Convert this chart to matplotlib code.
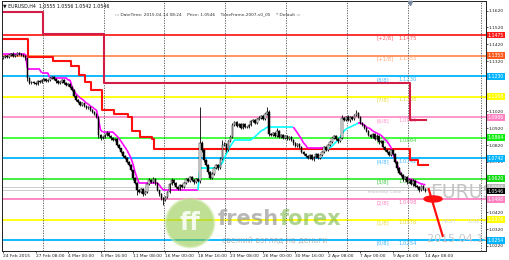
import numpy as np
import matplotlib.pyplot as plt
from matplotlib.collections import LineCollection
from matplotlib.patches import Ellipse

# ---- data (EURUSD H4) ----
date_labels = ['24 Feb 2015', '27 Feb 08:00', '4 Mar 00:00', '6 Mar 16:00', '11 Mar 08:00',
               '16 Mar 00:00', '18 Mar 16:00', '23 Mar 08:00', '26 Mar 00:00', '30 Mar 16:00',
               '2 Apr 08:00', '7 Apr 00:00', '9 Apr 16:00', '14 Apr 08:00']
date_label_bars = [0, 16, 32, 48, 64, 80, 96, 112, 128, 144, 160, 176, 192, 208]
week_bars = [20, 50, 80, 110, 140, 170, 200, 236]

first_open = 1.1338
closes = [
    1.1344, 1.1350, 1.1344, 1.1356, 1.1362, 1.1350, 1.1356, 1.1368, 1.1362, 1.1356, 1.1350, 1.1338,
    1.1219, 1.1189,
    1.1195, 1.1189, 1.1183, 1.1201, 1.1195, 1.1207,
    1.1213, 1.1201, 1.1207, 1.1219, 1.1225, 1.1213, 1.1201, 1.1189, 1.1195, 1.1207, 1.1189, 1.1177, 1.1183, 1.1165,
    1.1148, 1.1112, 1.1088, 1.1076, 1.1058, 1.1070, 1.1052, 1.1040, 1.1046, 1.1029, 1.1017, 1.1005, 1.0987, 1.0880, 1.0862,
    1.0868, 1.0880, 1.0892, 1.0874, 1.0862, 1.0850, 1.0856,
    1.0820, 1.0802, 1.0779, 1.0755, 1.0743, 1.0719, 1.0701, 1.0671, 1.0624,
    1.0594, 1.0552, 1.0540, 1.0558, 1.0528, 1.0540, 1.0588, 1.0612, 1.0600, 1.0618, 1.0594, 1.0552, 1.0528, 1.0505, 1.0493, 1.0511, 1.0540,
    1.0588, 1.0612, 1.0594, 1.0570, 1.0558, 1.0582, 1.0570,
    1.0594, 1.0618, 1.0606, 1.0630, 1.0612, 1.0600, 1.0618,
    1.0606, 1.0832, 1.0790, 1.0731, 1.0701, 1.0660, 1.0624, 1.0648,
    1.0683, 1.0701, 1.0683, 1.0737, 1.0820, 1.0826,
    1.0790, 1.0844, 1.0868,
    1.0939, 1.0957, 1.0933, 1.0945, 1.0922, 1.0945, 1.0927, 1.0927, 1.0939,
    1.0963, 1.0969, 1.0951, 1.0975, 1.0981, 1.0993, 1.0975, 1.1005,
    1.1017, 1.0886, 1.0880,
    1.0892, 1.0874, 1.0904, 1.0868, 1.0880, 1.0862,
    1.0874, 1.0856, 1.0868, 1.0850, 1.0832, 1.0814, 1.0826,
    1.0808, 1.0779, 1.0767, 1.0755, 1.0743, 1.0761, 1.0737, 1.0749, 1.0767, 1.0743, 1.0761,
    1.0779, 1.0808, 1.0790, 1.0820, 1.0838, 1.0862, 1.0874, 1.0856, 1.0844, 1.0862,
    1.0981, 1.0969, 1.0987, 1.0969, 1.0987, 1.0975, 1.0999, 1.1011, 1.0987,
    1.0951, 1.0939, 1.0922, 1.0904, 1.0880, 1.0868,
    1.0886, 1.0856, 1.0874, 1.0838, 1.0844, 1.0808, 1.0790, 1.0779, 1.0761,
    1.0790, 1.0767, 1.0719, 1.0683, 1.0654,
    1.0642, 1.0618, 1.0630, 1.0600, 1.0612, 1.0588, 1.0606, 1.0576,
    1.0570, 1.0552, 1.0576, 1.0558, 1.0546,
]
# wick lengths above / below the body, in pips
wick_up = [
    6, 5, 8, 4, 6, 9, 5, 7, 4, 6, 5, 4,
    3, 5,
    6, 4, 7, 5, 4, 6,
    5, 7, 4, 6, 8, 5, 4, 6, 5, 7, 4, 5, 6, 4,
    4, 5, 3, 6, 4, 7, 3, 5, 4, 6, 3, 5, 4, 6, 8,
    7, 5, 9, 4, 6, 5, 7,
    4, 5, 3, 6, 4, 3, 5, 4, 3,
    6, 4, 5, 7, 4, 8, 6, 9, 5, 12, 4, 5, 3, 6, 4, 7, 8,
    6, 9, 5, 4, 7, 5, 6,
    5, 8, 6, 7, 4, 5, 6,
    5, 214, 12, 8, 6, 5, 7, 9,
    6, 8, 5, 9, 30, 10,
    7, 8, 9,
    11, 8, 6, 9, 5, 7, 6, 8, 5,
    7, 5, 8, 6, 9, 5, 7, 8,
    29, 10, 7,
    6, 8, 18, 5, 7, 6,
    7, 5, 8, 6, 4, 5, 7,
    5, 6, 4, 7, 5, 8, 4, 6, 7, 5, 6,
    6, 5, 7, 8, 6, 7, 5, 6, 4, 7,
    20, 8, 6, 9, 7, 8, 6, 18, 7,
    6, 5, 7, 4, 6, 5,
    8, 6, 9, 5, 7, 6, 5, 4, 6,
    9, 6, 5, 4, 6,
    7, 5, 8, 6, 7, 5, 9, 6,
    7, 5, 8, 6, 4,
]
wick_dn = [
    5, 7, 4, 6, 5, 4, 8, 5, 6, 4, 7, 9,
    18, 6,
    5, 8, 6, 4, 7, 5,
    6, 4, 8, 5, 6, 7, 9, 5, 4, 6, 8, 5, 7, 6,
    6, 4, 7, 5, 8, 4, 6, 5, 7, 4, 6, 5, 4, 20, 12,
    6, 8, 5, 7, 9, 6, 5,
    7, 5, 8, 6, 9, 5, 7, 8, 10,
    8, 29, 7, 6, 10, 5, 7, 6, 8, 5, 9, 7, 10, 12, 30, 8, 6,
    7, 5, 9, 6, 8, 5, 7,
    6, 5, 8, 7, 5, 9, 6,
    8, 10, 12, 9, 7, 10, 8, 6,
    7, 5, 9, 6, 8, 7,
    10, 6, 7,
    5, 7, 6, 8, 5, 9, 6, 5, 7,
    6, 8, 5, 7, 6, 5, 8, 6,
    7, 12, 8,
    6, 9, 5, 7, 8, 6,
    5, 8, 6, 7, 9, 6, 5,
    7, 6, 9, 5, 8, 6, 7, 9, 5, 8, 6,
    5, 7, 6, 8, 5, 7, 6, 8, 9, 5,
    6, 8, 7, 5, 9, 6, 7, 5, 8,
    7, 6, 8, 5, 9, 6,
    6, 8, 5, 9, 7, 6, 8, 7, 9,
    6, 8, 7, 9, 6,
    8, 10, 7, 9, 8, 6, 10, 8,
    7, 9, 6, 8, 7,
]

# trailing trend line (magenta falling, cyan rising)
trend = (
    [1.1362] * 12 + [1.1277] + [1.1270] * 6 + [1.1250] * 4 + [1.1222] * 9 + [1.1207, 1.1207] +
    [1.1165, 1.1141, 1.1124, 1.1112, 1.1100, 1.1094, 1.1082, 1.1070, 1.1064, 1.1052, 1.1046, 1.1035, 1.1029] +
    [1.0975, 1.0910, 1.0898] + [1.0898] * 5 + [1.0886] +
    [1.0874, 1.0862, 1.0844, 1.0826, 1.0808, 1.0790, 1.0767, 1.0743, 1.0707, 1.0660, 1.0624] +
    [1.0594] * 10 + [1.0582, 1.0564] + [1.0552] * 18 +
    [1.0683] * 9 + [1.0689, 1.0701, 1.0713, 1.0743, 1.0767, 1.0790, 1.0814, 1.0832] +
    [1.0850] * 9 + [1.0862, 1.0868, 1.0880, 1.0892, 1.0904, 1.0910, 1.0916] + [1.0927] * 14 +
    [1.0910, 1.0892, 1.0874, 1.0856, 1.0832, 1.0820] + [1.0802] * 11 +
    [1.0802, 1.0814, 1.0826, 1.0838, 1.0850, 1.0868, 1.0886, 1.0904, 1.0916] +
    [1.0922, 1.0927, 1.0933, 1.0939, 1.0945, 1.0951] +
    [1.0951, 1.0945, 1.0939, 1.0927, 1.0922, 1.0916, 1.0904, 1.0898, 1.0892, 1.0886, 1.0880, 1.0868,
     1.0856, 1.0844, 1.0826, 1.0808] +
    [1.0767, 1.0737, 1.0707, 1.0671, 1.0648, 1.0630, 1.0624, 1.0618, 1.0618, 1.0618, 1.0612, 1.0606,
     1.0600, 1.0594, 1.0588, 1.0588, 1.0582]
)
cyan_ranges = [(97, 143), (161, 175)]

# step lines: bar where each step starts, and its level
red_starts = [0, 13, 25, 34, 38, 41, 44, 49, 55, 62, 64, 68, 74, 75, 201, 205]
red_levels = [1.1451, 1.1344, 1.1320, 1.1290, 1.1237, 1.1195, 1.1148, 1.1029, 1.1005, 1.0987,
              1.0904, 1.0868, 1.0856, 1.0796, 1.0731, 1.0701]
red_end = 210
crimson_starts = [0, 20, 50, 201]
crimson_levels = [1.1612, 1.1481, 1.1189, 1.0969]
crimson_end = 209

# Murrey math levels
level_names = ['[+2/8]', '[+1/8]', '[8/8]', '[7/8]', '[6/8]', '[5/8]', '[4/8]', '[3/8]', '[2/8]', '[1/8]', '[0/8]']
level_prices = [1.1475, 1.1353, 1.1230, 1.1108, 1.0986, 1.0864, 1.0742, 1.0620, 1.0498, 1.0376, 1.0254]

yesterday_lines = [1.0568, 1.0551]
bid = 1.0546
price_ticks = [1.1620, 1.1520, 1.1420, 1.1320, 1.1020, 1.0920, 1.0820, 1.0720,
               1.0420, 1.0320, 1.0220]

proj_x = [209.5, 216.7]
proj_y = [1.0564, 1.0273]
target_x, target_y = 211.8, 1.0499

# ---- styles ----
line_cols = ['#ff2020', '#ff8c55', '#00b4ff', '#ffff00', '#ff90c8', '#33ff33',
             '#00b4ff', '#33ee33', '#ff80c0', '#ffff00', '#00b4ff']
text_cols = ['#ff5f5f', '#ffa878', '#45bdff', '#e0d840', '#ff90c8', '#44d844',
             '#45b8ff', '#3cc83c', '#ff80bc', '#e8d838', '#40b4ff']
box_cols = ['#ff1a1a', '#ff5a1e', '#00b4ff', '#ffff00', '#ff80c0', '#11ee11',
            '#00b4ff', '#11dd11', '#ff80c0', '#ffff00', '#00b4ff']

n = len(closes)
idx = np.arange(n)
c = np.array(closes)
o = np.concatenate([[first_open], c[:-1]])
hi = np.maximum(o, c) + np.array(wick_up) * 0.0001
lo = np.minimum(o, c) - np.array(wick_dn) * 0.0001

fig = plt.figure(figsize=(5.1, 2.6), dpi=100)
fig.patch.set_facecolor('white')
ax = fig.add_axes([0.004, 0.0346, 0.949, 0.9615])
ax.set_xlim(-0.5, 237.9)
ax.set_ylim(1.01893, 1.16774)

for s in ax.spines.values():
    s.set_color('#202020')
    s.set_linewidth(0.7)

# levels
for p, col in zip(level_prices, line_cols):
    ax.axhline(p, color=col, lw=1.3, zorder=1)
for p in yesterday_lines:
    ax.axhline(p, color='#cccccc', lw=0.7, zorder=1)

# weekly separators
for b in week_bars:
    ax.axvline(b - 0.5, color='#505050', lw=0.6, ls=(0, (1.5, 1.5)), zorder=1.2)

# level labels (under the candles)
for name, p, col in zip(level_names, level_prices, text_cols):
    ax.text(0.7745, p - 0.0004, name, transform=ax.get_yaxis_transform(), color=col,
            fontsize=3.8, va='top', ha='left', zorder=1.5)
    ax.text(0.818, p - 0.0004, '%.4f' % p, transform=ax.get_yaxis_transform(), color=col,
            fontsize=3.8, va='top', ha='left', zorder=1.5)

ax.text(0.754, 1.0541, 'Yesterday Close', transform=ax.get_yaxis_transform(), color='#c4c4c4',
        fontsize=3.2, va='center', ha='left', zorder=1.5)

# step lines
def step_line(starts, levels, end, col, lw):
    xs = [s - 0.5 for s in starts] + [end - 0.5]
    ys = list(levels) + [levels[-1]]
    ax.step(xs, ys, where='post', color=col, lw=lw, zorder=2)

step_line(crimson_starts, crimson_levels, crimson_end, '#d21e46', 1.5)
step_line(red_starts, red_levels, red_end, '#ff1010', 1.5)

# trend line
segs, cols = [], []
for k in range(n - 1):
    segs.append([(k, trend[k]), (k + 1, trend[k + 1])])
    cyan = any(a <= k + 1 <= b for a, b in cyan_ranges)
    cols.append('#00ffff' if cyan else '#ff00ff')
ax.add_collection(LineCollection(segs, colors=cols, linewidths=1.2, zorder=2.5))

# candles
ax.vlines(idx, lo, hi, color='black', lw=0.6, zorder=3)
body = np.maximum(np.abs(c - o), 0.00008)
bull = c >= o
ax.bar(idx[bull], body[bull], bottom=np.minimum(o, c)[bull], width=0.75,
       color='white', edgecolor='black', lw=0.35, zorder=3.1)
ax.bar(idx[~bull], body[~bull], bottom=np.minimum(o, c)[~bull], width=0.75,
       color='black', edgecolor='black', lw=0.35, zorder=3.1)

# projection
ax.plot(proj_x, proj_y, color='#ff1010', lw=1.6, zorder=3.5, solid_capstyle='butt')
ax.add_patch(Ellipse((target_x, target_y), 8.9, 0.0036, color='#ff1010', zorder=3.6))

# right side decorations
ax.text(0.884, 1.0540, 'EURUSD', transform=ax.get_yaxis_transform(), color='#c4c4c4',
        fontsize=13.5, va='center', ha='left', zorder=1.6, clip_on=True)
ax.text(0.909, 1.0362, 'HIGH', transform=ax.get_yaxis_transform(), color='#d4d4d4',
        fontsize=4, va='center', ha='left', zorder=1.6)
ax.text(0.961, 1.0362, 'LOW', transform=ax.get_yaxis_transform(), color='#d4d4d4',
        fontsize=4, va='center', ha='left', zorder=1.6)
ax.text(0.878, 1.0262, '2015.04.14 08:24', transform=ax.get_yaxis_transform(), color='#c8c8c8',
        fontsize=8, va='center', ha='left', zorder=1.6, clip_on=True)

# axes ticks
ax.yaxis.tick_right()
ax.set_yticks(price_ticks)
ax.set_yticklabels(['%.4f' % t for t in price_ticks])
ax.set_xticks(date_label_bars)
ax.set_xticklabels(date_labels)
for lbl in ax.get_xticklabels():
    lbl.set_ha('left')
ax.tick_params(axis='both', labelsize=3.2, length=1.5, width=0.5, pad=0.6, colors='#202020')

# coloured price boxes on the scale
box_prices = level_prices + [yesterday_lines[0], bid]
box_colours = box_cols + ['#b8b8b8', '#000000']
for p, bc in zip(box_prices, box_colours):
    ax.text(1.003, p, '%.4f' % p, transform=ax.get_yaxis_transform(), fontsize=3.3,
            color='white', ha='left', va='center', zorder=5, clip_on=False,
            bbox=dict(boxstyle='square,pad=0.2', fc=bc, ec='none'))

# header
fig.text(0.006, 0.977, '\u25bc EURUSD,H4  1.0555 1.0556 1.0542 1.0546', fontsize=3.4,
         color='#101010', va='center', ha='left')
fig.text(0.225, 0.945, '::: DateTime: 2015.04.14 08:24    Price: 1.0546    TimeFrame-2007-v0_05    * Default :::',
         fontsize=3.1, color='#303030', va='center', ha='left')
ax.plot([0.8435], [0.993], marker='v', ms=3, color='#7a8aa0', transform=ax.transAxes,
        clip_on=False, zorder=6)

# watermark
fig.patches.append(Ellipse((190 / 510, 1 - 223 / 260), 48 / 510, 48 / 260, transform=fig.transFigure,
                           fc='#8cc63e', ec='#c8e6a0', lw=2, alpha=0.55, zorder=7))
fig.text(190 / 510, 1 - 223 / 260, 'ff', fontsize=17, fontweight='bold', color='white',
         ha='center', va='center', alpha=0.85, zorder=8)
t1 = fig.text(218 / 510, 1 - 219 / 260, 'fresh', fontsize=15, fontweight='bold', color='#8a8a8a',
              ha='left', va='center', alpha=0.6, zorder=8)
fig.canvas.draw()
bb = t1.get_window_extent().transformed(fig.transFigure.inverted())
fig.text(bb.x1, 1 - 219 / 260, 'forex', fontsize=15, fontweight='bold', color='#7ab648',
         ha='left', va='center', alpha=0.6, zorder=8)
fig.text(222 / 510, 1 - 240 / 260, 'свежий взгляд на деньги', fontsize=5.6, color='#909090',
         ha='left', va='center', alpha=0.6, zorder=8)

fig.savefig('out.png', dpi=100)
